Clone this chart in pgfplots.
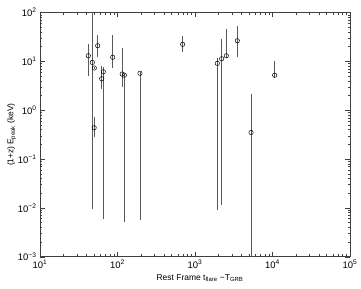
\documentclass[border=0pt]{standalone}
\usepackage{fontspec}
\setmainfont{Liberation Sans}
\usepackage{pgfplots}
\pgfplotsset{compat=1.18}
\begin{document}
\begin{tikzpicture}
\begin{axis}[
  scale only axis,
  width=310bp, height=244.2bp,
  xmode=log, ymode=log,
  xmin=10, xmax=1e5, ymin=1e-3, ymax=100,
  xtick={10,100,1000,10000,100000},
  xticklabels={10\textsuperscript{1},10\textsuperscript{2},10\textsuperscript{3},10\textsuperscript{4},10\textsuperscript{5}},
  ytick={1e-3,1e-2,1e-1,1,10,100},
  yticklabels={10\textsuperscript{−3},10\textsuperscript{−2},10\textsuperscript{−1},10\textsuperscript{0},10\textsuperscript{1},10\textsuperscript{2}},
  tick label style={font=\fontsize{9.5}{10}\selectfont},
  label style={font=\fontsize{8.5}{10}\selectfont},
  xlabel={Rest Frame t\textsubscript{flare} −T\textsubscript{GRB}},
  ylabel={(1+z)\,E\textsubscript{peak} (keV)},
  xlabel style={yshift=1bp, xshift=5bp},
  ylabel style={yshift=-5bp},
  tick align=inside,
  major tick length=5bp, minor tick length=2.5bp,
  axis line style={black!75, line width=0.6pt},
  every tick/.style={black!75, line width=0.4pt},
  clip=true,
]
\addplot[only marks, mark=o, mark size=2.2bp, black, mark options={line width=0.5pt},
  error bars/.cd, y dir=both, y explicit, error mark=none,
  error bar style={black!65, line width=0.7pt}]
coordinates {
 (42,13.0) += (0,9.6) -= (0,8.0)
 (47.3,9.5) += (0,190.5) -= (0,9.4906)
 (50.2,7.3) += (0,0.3) -= (0,0.3)
 (50,0.436) += (0,0.274) -= (0,0.151)
 (55.5,20.9) += (0,13.7) -= (0,8.8)
 (62.5,4.4) += (0,3.6) -= (0,1.73)
 (65.6,6.1) += (0,1.6) -= (0,6.0941)
 (86.7,12.1) += (0,22.5) -= (0,4.9)
 (115,5.5) += (0,12.9) -= (0,2.5)
 (122.5,5.2) += (0,0.4) -= (0,5.1948)
 (195,5.7) += (0,0.3) -= (0,5.6944)
 (693,22.3) += (0,10.7) -= (0,6.6)
 (1941,9.1) += (0,2.4) -= (0,9.091)
 (2208,11.3) += (0,16.9) -= (0,11.2887)
 (2536,13) += (0,32.9) -= (0,1.5)
 (3517,26.4) += (0,26.4) -= (0,14.3)
 (5286,0.35) += (0,1.75) -= (0,0.3495)
 (10660,5.2) += (0,4.9) -= (0,0.7)
};
\end{axis}
\pgfresetboundingbox
\path ([xshift=-40bp,yshift=-32.3bp]current axis.south west) rectangle ([xshift=11bp,yshift=12.5bp]current axis.north east);
\end{tikzpicture}
\end{document}
